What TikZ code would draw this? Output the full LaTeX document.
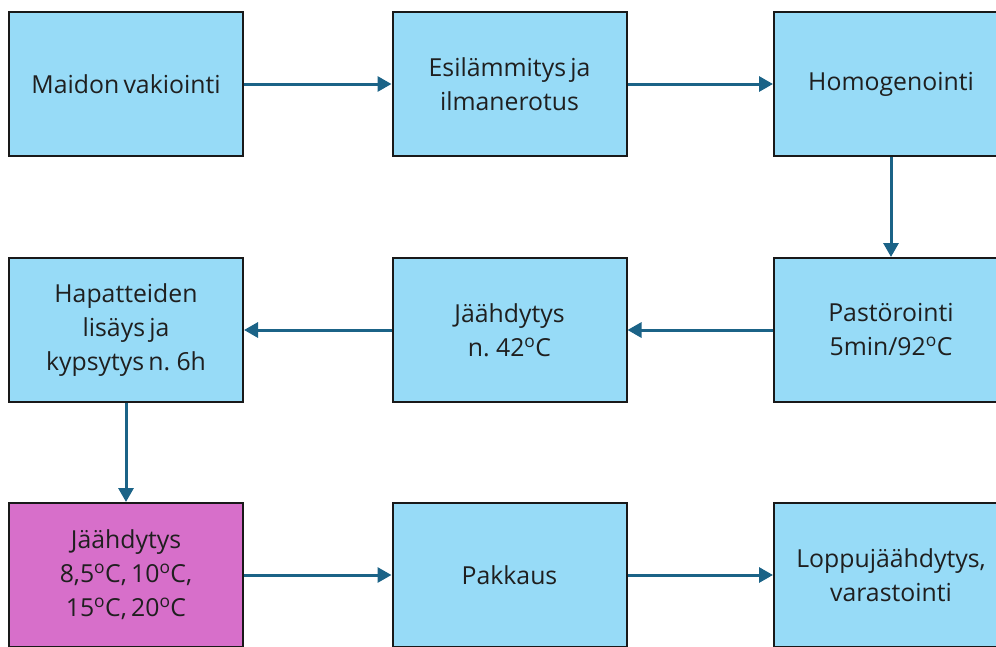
\documentclass[tikz,border=0pt]{standalone}
\usepackage{fontspec}
\setmainfont{Open Sans}
\usetikzlibrary{arrows.meta}
\definecolor{boxblue}{HTML}{97DBF7}
\definecolor{boxpink}{HTML}{D76FCA}
\definecolor{arrowc}{HTML}{1B6387}
\newcommand{\dg}{\textsuperscript{o}}
\newcommand{\boxfont}{\fontsize{24.8}{34}\selectfont\spaceskip=0.17em plus 0.05em\relax}
\tikzset{
  stepbox/.style={draw=black!90, line width=2pt, fill=boxblue, minimum width=234pt, minimum height=144pt, inner sep=0pt, align=center, font=\boxfont, text=black!88},
  flow/.style={draw=arrowc, line width=3pt, -{Triangle[length=14pt,width=15pt]}}
}
\begin{document}
\begin{tikzpicture}[x=1pt,y=-1pt]
\useasboundingbox (0,0) rectangle (996,646);
\node[stepbox] (a) at (126,84) {Maidon vakiointi};
\node[stepbox] (b) at (509.5,84) {Esilämmitys ja\\ilmanerotus};
\node[stepbox] (c) at (891,84) {Homogenointi};
\node[stepbox] (d) at (891,330) {Pastörointi\\5min/92\dg C};
\node[stepbox] (e) at (509.5,330) {Jäähdytys\\n. 42\dg C};
\node[stepbox] (f) at (126,330) {Hapatteiden\\lisäys ja\\kypsytys n. 6h};
\node[stepbox, fill=boxpink] (g) at (126,575) {Jäähdytys\\8,5\dg C, 10\dg C,\\15\dg C, 20\dg C};
\node[stepbox] (h) at (509.5,575) {Pakkaus};
\node[stepbox] (i) at (891,575) {Loppujäähdytys,\\varastointi};
\draw[flow] (a) -- (b);
\draw[flow] (b) -- (c);
\draw[flow] (c) -- (d);
\draw[flow] (d) -- (e);
\draw[flow] (e) -- (f);
\draw[flow] (f) -- (g);
\draw[flow] (g) -- (h);
\draw[flow] (h) -- (i);
\end{tikzpicture}
\end{document}
